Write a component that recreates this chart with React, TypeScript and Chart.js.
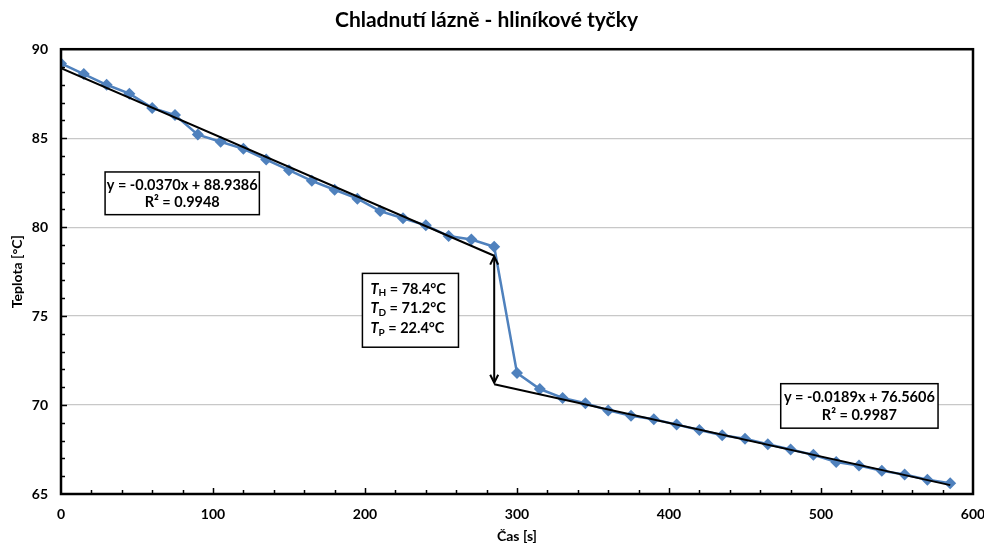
import React, { useEffect, useRef } from "react";
import { Chart, registerables } from "chart.js";

Chart.register(...registerables);

const times = [0, 15, 30, 45, 60, 75, 90, 105, 120, 135, 150, 165, 180, 195, 210, 225, 240, 255, 270, 285, 300, 315, 330, 345, 360, 375, 390, 405, 420, 435, 450, 465, 480, 495, 510, 525, 540, 555, 570, 585];
const temps = [89.2, 88.6, 88.0, 87.5, 86.7, 86.3, 85.2, 84.8, 84.4, 83.8, 83.2, 82.6, 82.1, 81.6, 80.9, 80.5, 80.1, 79.5, 79.3, 78.9, 71.8, 70.9, 70.4, 70.1, 69.7, 69.4, 69.2, 68.9, 68.6, 68.3, 68.1, 67.8, 67.5, 67.2, 66.8, 66.6, 66.3, 66.1, 65.8, 65.6];

const trend1X = [0, 285];
const trend1Y = [88.94, 78.39];
const trend2X = [285, 585];
const trend2Y = [71.17, 65.5];

const arrowX = 285;
const arrowTop = 78.4;
const arrowBottom = 71.2;

const fitText1 = ["y = -0.0370x + 88.9386", "R² = 0.9948"];
const fitText2 = ["y = -0.0189x + 76.5606", "R² = 0.9987"];
const tempLabels = [
  { sym: "T", sub: "H", rest: " = 78.4°C" },
  { sym: "T", sub: "D", rest: " = 71.2°C" },
  { sym: "T", sub: "P", rest: " = 22.4°C" },
];

// annotation boxes in data coordinates: [xMin, xMax, yMax, yMin]
const box1 = [29, 130.5, 83.1, 80.7];
const box2 = [473.5, 577, 71.2, 68.7];
const box3 = [198.3, 261.5, 77.4, 73.25];

const FONT = "Lato, 'Open Sans', 'DejaVu Sans', sans-serif";

const overlayPlugin = {
  id: "overlay",
  afterDatasetsDraw(chart: any) {
    const ctx = chart.ctx;
    const xs = chart.scales.x;
    const ys = chart.scales.y;
    const area = chart.chartArea;
    ctx.save();

    // inward ticks
    ctx.strokeStyle = "#000";
    ctx.lineWidth = 1.5;
    for (let v = xs.min + 20; v < xs.max; v += 20) {
      const px = Math.round(xs.getPixelForValue(v)) + 0.5;
      const len = v % 100 === 0 ? 6 : 4;
      ctx.beginPath();
      ctx.moveTo(px, area.bottom);
      ctx.lineTo(px, area.bottom - len);
      ctx.stroke();
    }
    for (let v = ys.min + 1; v < ys.max; v += 1) {
      const py = Math.round(ys.getPixelForValue(v)) + 0.5;
      const len = v % 5 === 0 ? 6 : 4;
      ctx.beginPath();
      ctx.moveTo(area.left, py);
      ctx.lineTo(area.left + len, py);
      ctx.stroke();
    }

    // border
    ctx.lineWidth = 2.5;
    ctx.strokeStyle = "#000";
    ctx.strokeRect(area.left, area.top, area.right - area.left, area.bottom - area.top);

    // arrow
    const ax = xs.getPixelForValue(arrowX);
    const ay1 = ys.getPixelForValue(arrowTop);
    const ay2 = ys.getPixelForValue(arrowBottom);
    ctx.lineWidth = 2;
    ctx.beginPath();
    ctx.moveTo(ax, ay1 + 1);
    ctx.lineTo(ax, ay2 - 1);
    ctx.stroke();
    ctx.beginPath();
    ctx.moveTo(ax - 4, ay1 + 9);
    ctx.lineTo(ax, ay1 + 1);
    ctx.lineTo(ax + 4, ay1 + 9);
    ctx.moveTo(ax - 4, ay2 - 9);
    ctx.lineTo(ax, ay2 - 1);
    ctx.lineTo(ax + 4, ay2 - 9);
    ctx.stroke();

    const drawBox = (b: number[]) => {
      const l = xs.getPixelForValue(b[0]);
      const r = xs.getPixelForValue(b[1]);
      const t = ys.getPixelForValue(b[2]);
      const bt = ys.getPixelForValue(b[3]);
      ctx.fillStyle = "#fff";
      ctx.fillRect(l, t, r - l, bt - t);
      ctx.lineWidth = 1.5;
      ctx.strokeStyle = "#000";
      ctx.strokeRect(l, t, r - l, bt - t);
      return { l, r, t, bt };
    };

    const drawFit = (b: number[], lines: string[]) => {
      const { l, r, t, bt } = drawBox(b);
      ctx.fillStyle = "#000";
      ctx.font = `bold 14.5px ${FONT}`;
      ctx.textAlign = "center";
      ctx.textBaseline = "middle";
      const cx = (l + r) / 2;
      const h = bt - t;
      ctx.fillText(lines[0], cx, t + h * 0.31);
      ctx.fillText(lines[1], cx, t + h * 0.72);
    };
    drawFit(box1, fitText1);
    drawFit(box2, fitText2);

    const b3 = drawBox(box3);
    ctx.fillStyle = "#000";
    ctx.textAlign = "left";
    ctx.textBaseline = "middle";
    const h3 = b3.bt - b3.t;
    tempLabels.forEach((lab, i) => {
      const y = b3.t + h3 * (0.21 + i * 0.27);
      let x = b3.l + 8;
      ctx.font = `italic bold 14.5px ${FONT}`;
      ctx.fillText(lab.sym, x, y);
      x += ctx.measureText(lab.sym).width;
      ctx.font = `bold 10px ${FONT}`;
      ctx.fillText(lab.sub, x, y + 4);
      x += ctx.measureText(lab.sub).width;
      ctx.font = `bold 14.5px ${FONT}`;
      ctx.fillText(lab.rest, x, y);
    });

    ctx.restore();
  },
};

export default function App() {
  const ref = useRef<HTMLCanvasElement>(null);
  useEffect(() => {
    if (!ref.current) return;
    const chart = new Chart(ref.current, {
      type: "scatter",
      data: {
        datasets: [
          {
            label: "Teplota",
            data: times.map((t, i) => ({ x: t, y: temps[i] })),
            showLine: true,
            borderColor: "#4F81BD",
            backgroundColor: "#4F81BD",
            borderWidth: 2.5,
            pointStyle: "rectRot",
            pointRadius: 6,
            pointBorderWidth: 0,
            order: 2,
          },
          {
            label: "Trend 1",
            data: trend1X.map((t, i) => ({ x: t, y: trend1Y[i] })),
            showLine: true,
            borderColor: "#000",
            borderWidth: 2,
            pointRadius: 0,
            order: 1,
          },
          {
            label: "Trend 2",
            data: trend2X.map((t, i) => ({ x: t, y: trend2Y[i] })),
            showLine: true,
            borderColor: "#000",
            borderWidth: 2,
            pointRadius: 0,
            order: 1,
          },
        ],
      },
      options: {
        animation: false,
        responsive: false,
        layout: { padding: { left: 0, right: 11, top: 0, bottom: 0 } },
        plugins: {
          legend: { display: false },
          tooltip: { enabled: false },
          title: {
            display: true,
            text: "Chladnutí lázně - hliníkové tyčky",
            color: "#000",
            font: { family: FONT, size: 21, weight: "bold" },
            padding: { top: 8, bottom: 16 },
          },
        },
        scales: {
          x: {
            type: "linear",
            min: 0,
            max: 600,
            ticks: {
              stepSize: 100,
              color: "#000",
              font: { family: FONT, size: 14, weight: "bold" },
              padding: 12,
            },
            grid: { display: false, drawTicks: false },
            border: { display: false },
            title: {
              display: true,
              text: "Čas [s]",
              color: "#000",
              font: { family: FONT, size: 14, weight: "bold" },
              padding: 0,
            },
            afterFit(scale: any) {
              scale.height = 51;
              scale.paddingLeft = 0;
              scale.paddingRight = 0;
            },
          },
          y: {
            type: "linear",
            min: 65,
            max: 90,
            ticks: {
              stepSize: 5,
              color: "#000",
              font: { family: FONT, size: 14, weight: "bold" },
              padding: 13,
            },
            grid: { color: "#C8C8C8", lineWidth: 1.2, drawTicks: false },
            border: { display: false },
            title: {
              display: true,
              text: "Teplota [°C]",
              color: "#000",
              font: { family: FONT, size: 14, weight: "bold" },
              padding: { top: 9, bottom: 0 },
            },
            afterFit(scale: any) {
              scale.width = 61;
              scale.paddingTop = 0;
              scale.paddingBottom = 0;
            },
          },
        },
      },
      plugins: [overlayPlugin],
    });
    return () => chart.destroy();
  }, []);

  return (
    <div style={{ position: "absolute", left: 0, top: 0, width: 984, height: 545, background: "#fff", overflow: "hidden" }}>
      <canvas ref={ref} width={984} height={545} />
    </div>
  );
}
